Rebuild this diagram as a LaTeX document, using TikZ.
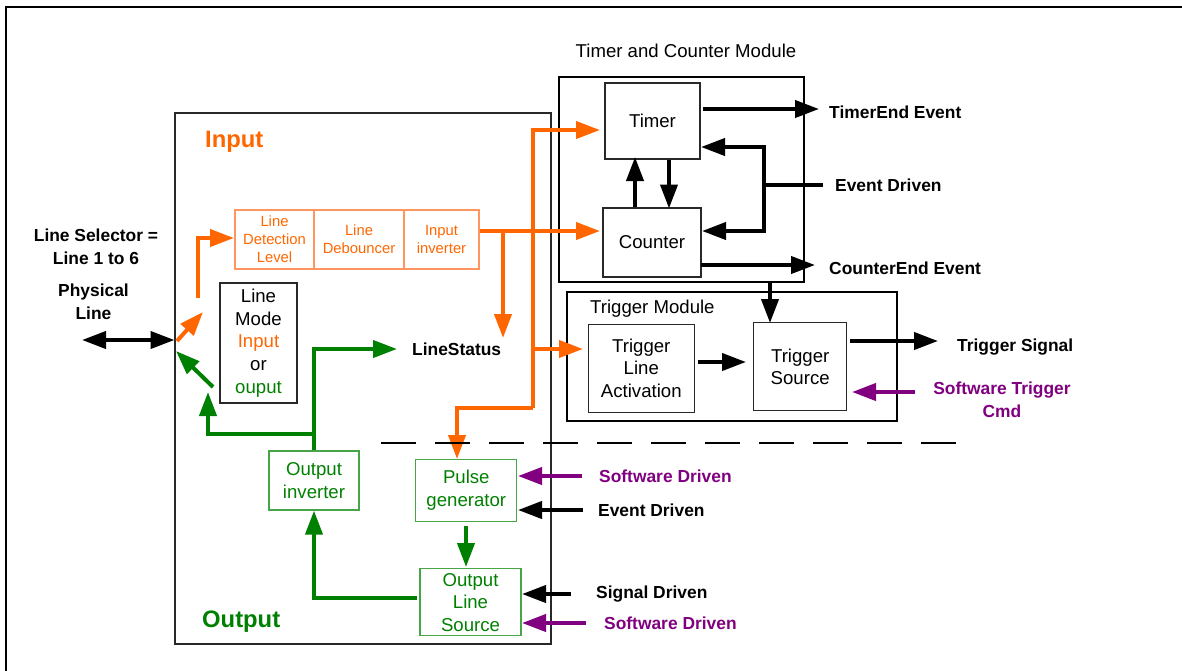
\documentclass[tikz,border=0pt]{standalone}
\usepackage{fontspec}
\setmainfont{Liberation Sans}
\usetikzlibrary{arrows.meta}
\definecolor{org}{RGB}{255,102,0}
\definecolor{orgl}{RGB}{255,150,95}
\definecolor{grn}{RGB}{0,128,0}
\definecolor{grnl}{RGB}{70,165,70}
\definecolor{prp}{RGB}{128,0,128}
\definecolor{frm}{RGB}{40,40,40}
\newcommand\fnReg{\fontsize{18.6}{22.7}\selectfont}
\newcommand\fnBold{\fontsize{17.4}{22.7}\selectfont\bfseries}
\newcommand\fnSmall{\fontsize{14.8}{18}\selectfont}
\begin{document}
\begin{tikzpicture}[x=1pt,y=-1pt,
  blk/.style={draw=frm,line width=1.2pt,inner sep=0pt,align=center,font=\fnReg},
  oblk/.style={draw=orgl,line width=1.2pt,inner sep=0pt,align=center,font=\fnSmall,text=org},
  gblk/.style={draw=grnl,line width=1.2pt,inner sep=0pt,align=center,font=\fnReg,text=grn},
  lbl/.style={font=\fnBold,inner sep=0pt,align=center},
  big/.style={font=\fontsize{23.8}{28}\selectfont\bfseries,anchor=base west,inner sep=0pt},
  thk/.style={line width=4pt},
  arr/.style={thk,-{Triangle[length=24pt,width=17pt]}},
  darr/.style={thk,{Triangle[length=24pt,width=17pt]}-{Triangle[length=24pt,width=17pt]}}]
\useasboundingbox (0,0) rectangle (1182,670);
% outer frame
\draw[line width=2pt] (6,675) -- (6,6.5) -- (1190,6.5);
% main box
\node[draw=frm,line width=1.2pt,minimum width=376pt,minimum height=531pt,inner sep=0pt] (main) at (363,378.5) {};
\node[big,text=org] (inlbl) at (205,147) {Input};
\node[big,text=grn] (outlbl) at (202,627) {Output};
% input chain
\node[oblk,minimum width=79pt,minimum height=59pt] (det) at (274.5,239.5) {Line\\Detection\\Level};
\node[oblk,minimum width=90pt,minimum height=59pt] (deb) at (359,239.5) {Line\\Debouncer};
\node[oblk,minimum width=75pt,minimum height=59pt] (inv) at (441.5,239.5) {Input\\inverter};
% line mode
\node[blk,minimum width=77pt,minimum height=120pt] (mode) at (258.5,343) {Line\\Mode\\\textcolor{org}{Input}\\or\\\textcolor{grn}{ouput}};
% output blocks
\node[gblk,minimum width=90pt,minimum height=59pt] (oinv) at (314,480.5) {Output\\inverter};
\node[gblk,minimum width=101pt,minimum height=62pt] (pulse) at (466.3,490.5) {Pulse\\generator};
\node[gblk,minimum width=101pt,minimum height=67pt] (ols) at (470.5,602.3) {Output\\Line\\Source};
% timer and counter module
\node[draw,line width=2.4pt,minimum width=245pt,minimum height=205pt,inner sep=0pt] (tcm) at (681.5,179.5) {};
\node[font=\fnReg,anchor=base,inner sep=0pt] (tcmlbl) at (686,57.3) {Timer and Counter Module};
\node[blk,minimum width=95pt,minimum height=76pt] (timer) at (652.5,121) {Timer};
\node[blk,minimum width=98pt,minimum height=69pt] (counter) at (652,242.5) {Counter};
% trigger module
\node[draw,line width=1.5pt,minimum width=330pt,minimum height=129pt,inner sep=0pt] (tm) at (732,356.5) {};
\node[font=\fnReg,anchor=base west,inner sep=0pt] (tmlbl) at (590,313) {Trigger Module};
\node[blk,minimum width=106pt,minimum height=88pt] (tla) at (641.3,368.3) {Trigger\\Line\\Activation};
\node[blk,minimum width=93pt,minimum height=88pt] (ts) at (800.2,366.7) {Trigger\\Source};
% labels
\node[lbl] (lsel) at (96,246.5) {Line Selector =\\Line 1 to 6};
\node[lbl] (phys) at (93.5,301.5) {Physical\\Line};
\node[lbl,anchor=base west] (lstat) at (412,355) {LineStatus};
\node[lbl,anchor=west] (tend) at (829,112.5) {TimerEnd Event};
\node[lbl,anchor=west] (evd1) at (835,185) {Event Driven};
\node[lbl,anchor=west] (cend) at (829,268) {CounterEnd Event};
\node[lbl,anchor=base west] (tsig) at (957,351.5) {Trigger Signal};
\node[lbl,text=prp] (swtc) at (1002,399.5) {Software Trigger\\Cmd};
\node[lbl,anchor=west,text=prp] (swd1) at (599,476) {Software Driven};
\node[lbl,anchor=west] (evd2) at (598,510) {Event Driven};
\node[lbl,anchor=base west] (sigd) at (596,598.5) {Signal Driven};
\node[lbl,anchor=west,text=prp] (swd2) at (604,623) {Software Driven};
% coordinates for free ends
\coordinate (pl) at (82,340);
\coordinate (pr) at (174.5,340);
% physical line
\draw[darr] (pl) -- (pr);
% orange input paths
\draw[arr,org] (177,341) -- (203,312);
\draw[arr,org] (198,298) -- (198,238) -- (234,238);
\draw[arr,org] (inv.east |- 0,231) -- (600,231);
\draw[arr,org] (503,231) -- (503,338);
\draw[arr,org] (533,408) -- (533,130) -- (600,130);
\draw[arr,org] (533,349) -- (583,349);
\draw[arr,org] (533,408) -- (457,408) -- (457,459);
% green output paths
\draw[arr,grn] (213,387) -- (176,351);
\draw[arr,grn] (oinv.north) -- (314,349) -- (397,349);
\draw[arr,grn] (314,434) -- (208,434) -- (208,392);
\draw[arr,grn] (416.5,598) -- (314,598) -- (oinv.south);
\draw[arr,grn] (466,526) -- (466,567);
% timer counter
\draw[arr] (702.5,109) -- (819,109);
\draw[arr] (635,0 |- counter.north) -- (635,157);
\draw[arr] (669,0 |- timer.south) -- (669,208.5);
\draw[arr] (823,185) -- (764,185) -- (764,147) -- (701,147);
\draw[arr] (764,185) -- (764,231) -- (702,231);
\draw[arr] (701,265) -- (815,265);
\draw[arr] (770,0 |- tcm.south) -- (770,323);
% trigger module
\draw[arr] (698,362) -- (746,362);
\draw[arr] (850,341) -- (938,341);
\draw[arr,prp] (915,392) -- (852,392);
% pulse / ols inputs
\draw[arr,prp] (582,476) -- (518,476);
\draw[arr] (582.5,510) -- (518,510);
\draw[arr] (571,594) -- (522,594);
\draw[arr,prp] (585.5,623) -- (522,623);
% dashed separator
\draw[line width=2pt,dash pattern=on 35pt off 19pt] (381,443) -- (957,443);
\end{tikzpicture}
\end{document}
